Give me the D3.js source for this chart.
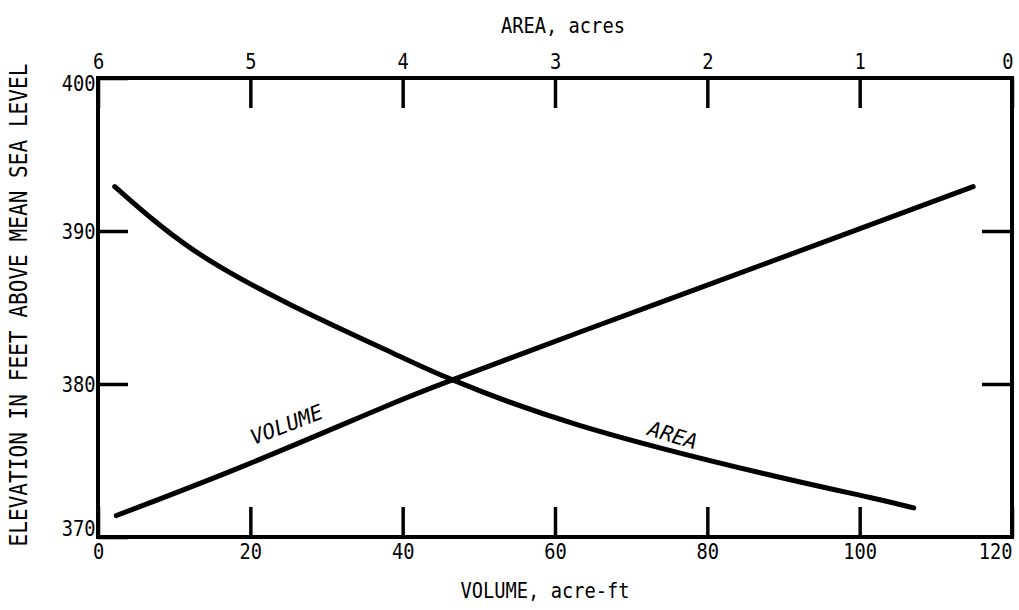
<!DOCTYPE html>
<html>
<head>
<meta charset="utf-8">
<script src="https://cdn.jsdelivr.net/npm/d3@7"></script>
<style>
  body { margin: 0; background: #fff; }
  svg text { font-family: "DejaVu Sans Mono", monospace; fill: #000; }
</style>
</head>
<body>
<svg id="chart" width="1019" height="610"></svg>
<script>
// elevation (ft) vs volume (acre-ft)
const volumeValues = [2.4, 19.4, 37.1, 46.7, 63.3, 79.1, 96.5, 114.9];
const volumeElevations = [371.4, 374.7, 378.4, 380.3, 383.4, 386.3, 389.5, 392.9];
// elevation (ft) vs area (acres)
const areaValues = [5.89, 5.38, 4.72, 4.06, 3.68, 2.84, 1.61, 0.94, 0.645];
const areaElevations = [392.9, 388.8, 385.1, 382.0, 380.3, 377.3, 374.1, 372.6, 371.9];

const volumeTicks = [0, 20, 40, 60, 80, 100, 120];
const areaTicks = [6, 5, 4, 3, 2, 1, 0];
const elevationTicks = [370, 380, 390, 400];

const svg = d3.select("#chart");
const plot = { left: 98, right: 1012, top: 78, bottom: 537 };

const xVolume = d3.scaleLinear().domain([0, 120]).range([plot.left, plot.right]);
const xArea = d3.scaleLinear().domain([6, 0]).range([plot.left, plot.right]);
const y = d3.scaleLinear().domain([370, 400]).range([plot.bottom, plot.top]);

//narrow lettering, like the lettering guide on the original
const squeeze = (sel, k) => sel.attr("transform", function () {
  const prev = d3.select(this).attr("transform") || "";
  return prev + ` scale(${k},1)`;
});

const styleAxis = (g) => {
  g.select(".domain").remove();
  g.selectAll(".tick line").attr("stroke", "#000").attr("stroke-width", 3.5);
  g.selectAll(".tick text").attr("font-size", 22).attr("font-family", "DejaVu Sans Mono");
  squeeze(g.selectAll(".tick text"), 0.85);
};

//bottom axis (volume)
const bottomAxis = svg.append("g")
  .attr("transform", `translate(0,${plot.bottom})`)
  .call(d3.axisBottom(xVolume).tickValues(volumeTicks).tickSize(-30).tickPadding(6))
  .call(styleAxis);
bottomAxis.selectAll(".tick text")
  .filter((d) => d === 120)
  .attr("text-anchor", "end");

//top axis (area)
const topAxis = svg.append("g")
  .attr("transform", `translate(0,${plot.top})`)
  .call(d3.axisTop(xArea).tickValues(areaTicks).tickFormat(d3.format("d")).tickSize(-30).tickPadding(9))
  .call(styleAxis);
topAxis.selectAll(".tick text")
  .filter((d) => d === 0)
  .attr("dx", "-0.25em");

//left axis (elevation)
const leftAxis = svg.append("g")
  .attr("transform", `translate(${plot.left},0)`)
  .call(d3.axisLeft(y).tickValues(elevationTicks).tickSize(-30).tickPadding(3))
  .call(styleAxis);
leftAxis.selectAll(".tick text")
  .attr("dy", (d) => (d === 370 ? "-0.05em" : d === 400 ? "0.55em" : "0.32em"));

//right side only carries inward ticks
svg.append("g")
  .attr("transform", `translate(${plot.right},0)`)
  .call(d3.axisRight(y).tickValues([380, 390]).tickSize(-30).tickFormat(""))
  .call(styleAxis);

//frame
svg.append("rect")
  .attr("x", plot.left)
  .attr("y", plot.top)
  .attr("width", plot.right - plot.left)
  .attr("height", plot.bottom - plot.top)
  .attr("fill", "none")
  .attr("stroke", "#000")
  .attr("stroke-width", 4);

//curves
const volumeLine = d3.line()
  .x((d, i) => xVolume(volumeValues[i]))
  .y((d, i) => y(volumeElevations[i]))
  .curve(d3.curveNatural);
const areaLine = d3.line()
  .x((d, i) => xArea(areaValues[i]))
  .y((d, i) => y(areaElevations[i]))
  .curve(d3.curveNatural);

svg.append("path")
  .attr("d", volumeLine(volumeValues))
  .attr("fill", "none")
  .attr("stroke", "#000")
  .attr("stroke-width", 5)
  .attr("stroke-linecap", "round");
svg.append("path")
  .attr("d", areaLine(areaValues))
  .attr("fill", "none")
  .attr("stroke", "#000")
  .attr("stroke-width", 5)
  .attr("stroke-linecap", "round");

//curve labels
svg.append("text")
  .attr("transform", `translate(${xVolume(25.1)},${y(376.9)}) rotate(-21)`)
  .attr("text-anchor", "middle")
  .attr("font-size", 21)
  .attr("font-style", "italic")
  .text("VOLUME");
svg.append("text")
  .attr("transform", `translate(${xArea(2.24)},${y(376.2)}) rotate(17)`)
  .attr("text-anchor", "middle")
  .attr("font-size", 21)
  .attr("font-style", "italic")
  .text("AREA");

//axis titles
svg.append("text")
  .attr("transform", "translate(563,33) scale(0.85,1)")
  .attr("text-anchor", "middle")
  .attr("font-size", 22)
  .text("AREA, acres");
svg.append("text")
  .attr("transform", "translate(545,598) scale(0.85,1)")
  .attr("text-anchor", "middle")
  .attr("font-size", 22)
  .text("VOLUME, acre-ft");
svg.append("text")
  .attr("transform", "translate(27,305) rotate(-90) scale(0.88,1)")
  .attr("text-anchor", "middle")
  .attr("font-size", 24)
  .text("ELEVATION IN FEET ABOVE MEAN SEA LEVEL");
</script>
</body>
</html>
